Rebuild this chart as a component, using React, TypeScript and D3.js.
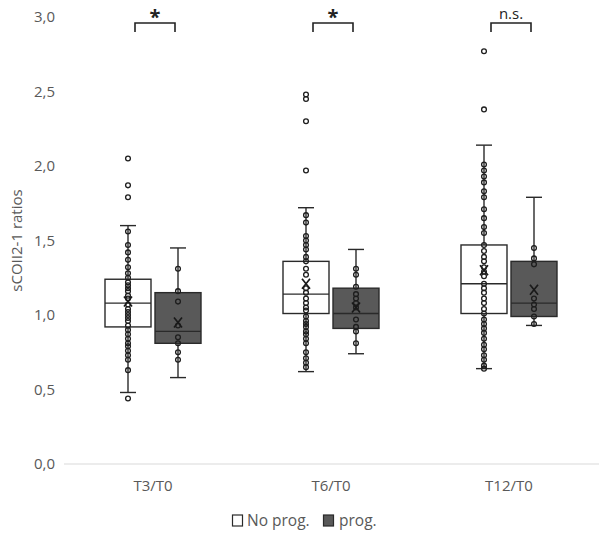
import React from "react";
import * as d3 from "d3";

const categories = ["T3/T0", "T6/T0", "T12/T0"];
const series = ["No prog.", "prog."];
const yTicks = [0, 0.5, 1.0, 1.5, 2.0, 2.5, 3.0];

// box statistics per category, per series: [No prog., prog.]
const q1 = [[0.92, 0.81], [1.01, 0.91], [1.01, 0.99]];
const median = [[1.08, 0.89], [1.14, 1.01], [1.21, 1.08]];
const q3 = [[1.24, 1.15], [1.36, 1.18], [1.47, 1.36]];
const whiskerLow = [[0.48, 0.58], [0.62, 0.74], [0.64, 0.93]];
const whiskerHigh = [[1.60, 1.45], [1.72, 1.44], [2.14, 1.79]];
const means = [[1.09, 0.95], [1.21, 1.05], [1.30, 1.17]];

const pointsT3NoProg = [2.05, 1.87, 1.79, 1.56, 1.47, 1.42, 1.37, 1.32, 1.28, 1.25, 1.22, 1.20, 1.18, 1.16, 1.13, 1.11, 1.07, 1.04, 1.02, 1.00, 0.98, 0.96, 0.93, 0.90, 0.87, 0.84, 0.81, 0.79, 0.76, 0.73, 0.70, 0.63, 0.44];
const pointsT3Prog = [1.31, 1.16, 1.09, 0.93, 0.85, 0.81, 0.75, 0.70];
const pointsT6NoProg = [2.48, 2.45, 2.30, 1.97, 1.67, 1.62, 1.53, 1.50, 1.47, 1.44, 1.39, 1.36, 1.31, 1.27, 1.18, 1.15, 1.11, 1.08, 1.05, 1.03, 0.99, 0.96, 0.94, 0.92, 0.89, 0.87, 0.84, 0.81, 0.75, 0.71, 0.68, 0.65];
const pointsT6Prog = [1.31, 1.27, 1.19, 1.14, 1.11, 1.08, 1.05, 0.97, 0.92, 0.89, 0.81];
const pointsT12NoProg = [2.77, 2.38, 2.01, 1.97, 1.93, 1.89, 1.83, 1.79, 1.71, 1.65, 1.59, 1.55, 1.47, 1.43, 1.39, 1.36, 1.32, 1.29, 1.26, 1.21, 1.18, 1.15, 1.11, 1.08, 1.04, 1.01, 0.97, 0.94, 0.91, 0.88, 0.84, 0.80, 0.77, 0.73, 0.70, 0.66, 0.64];
const pointsT12Prog = [1.45, 1.38, 1.34, 1.11, 1.07, 1.04, 0.99, 0.94];

const points = [
  [pointsT3NoProg, pointsT3Prog],
  [pointsT6NoProg, pointsT6Prog],
  [pointsT12NoProg, pointsT12Prog],
];
const significance = ["*", "*", "n.s."];

const W = 604;
const H = 534;
const FONT = "'Open Sans', sans-serif";
const TEXT = "#595959";
const STROKE = "#2a2a2a";
const fills = ["#ffffff", "#595959"];
const FS = 15;

export default function App() {
  const x = d3.scaleBand<string>().domain(categories).range([64, 598]);
  const sub = d3.scaleBand<string>().domain(series).range([-48, 48]).paddingInner(0.08);
  const y = d3.scaleLinear().domain([0, 3]).range([464, 17]);
  const bw = sub.bandwidth();

  return (
    <svg width={W} height={H} style={{ position: "absolute", left: 0, top: 0, background: "#fff" }}>
      {/* y tick labels */}
      {yTicks.map((t) => (
        <text key={t} x={55} y={y(t)} dy="0.35em" textAnchor="end" fontFamily={FONT} fontSize={FS} fill={TEXT}>
          {d3.format(".1f")(t).replace(".", ",")}
        </text>
      ))}
      {/* baseline */}
      <line x1={64} x2={599} y1={y(0)} y2={y(0)} stroke="#d9d9d9" strokeWidth={1.2} />
      {/* y title */}
      <text transform={`translate(17,${(y(0) + y(3)) / 2}) rotate(-90)`} textAnchor="middle" dy="0.35em" fontFamily={FONT} fontSize={FS} fill={TEXT}>
        sCOII2-1 ratios
      </text>
      {/* category labels */}
      {categories.map((c) => (
        <text key={c} x={x(c)! + x.bandwidth() / 2} y={486} dy="0.35em" textAnchor="middle" fontFamily={FONT} fontSize={FS} fill={TEXT}>
          {c}
        </text>
      ))}
      {/* boxes */}
      {categories.map((c, ci) => {
        const cx0 = x(c)! + x.bandwidth() / 2;
        return (
          <g key={c}>
            {series.map((s, si) => {
              const left = cx0 + sub(s)!;
              const cx = left + bw / 2;
              const cap = 8;
              const m = means[ci][si];
              const ms = 4;
              return (
                <g key={s}>
                  <line x1={cx} x2={cx} y1={y(q3[ci][si])} y2={y(whiskerHigh[ci][si])} stroke={STROKE} strokeWidth={1.4} />
                  <line x1={cx} x2={cx} y1={y(q1[ci][si])} y2={y(whiskerLow[ci][si])} stroke={STROKE} strokeWidth={1.4} />
                  <line x1={cx - cap} x2={cx + cap} y1={y(whiskerHigh[ci][si])} y2={y(whiskerHigh[ci][si])} stroke={STROKE} strokeWidth={1.4} />
                  <line x1={cx - cap} x2={cx + cap} y1={y(whiskerLow[ci][si])} y2={y(whiskerLow[ci][si])} stroke={STROKE} strokeWidth={1.4} />
                  <rect x={left} y={y(q3[ci][si])} width={bw} height={y(q1[ci][si]) - y(q3[ci][si])} fill={fills[si]} stroke={STROKE} strokeWidth={1.4} />
                  <line x1={left} x2={left + bw} y1={y(median[ci][si])} y2={y(median[ci][si])} stroke={STROKE} strokeWidth={1.4} />
                  {points[ci][si].map((p, pi) => (
                    <circle key={pi} cx={cx} cy={y(p)} r={2.4} fill="none" stroke="#1e1e1e" strokeWidth={1.3} />
                  ))}
                  <path d={`M${cx - ms},${y(m) - ms - 1}L${cx + ms},${y(m) + ms + 1}M${cx + ms},${y(m) - ms - 1}L${cx - ms},${y(m) + ms + 1}`} stroke="#1a1a1a" strokeWidth={1.7} fill="none" />
                </g>
              );
            })}
            {/* significance bracket */}
            <path d={`M${cx0 - 18},32V23H${cx0 + 22}V32`} fill="none" stroke="#222" strokeWidth={1.6} />
            <text x={cx0 + 2} y={significance[ci] === "*" ? 17 : 14} dy="0.35em" textAnchor="middle" fontFamily={FONT} fontSize={significance[ci] === "*" ? 20 : 15} fontWeight={significance[ci] === "*" ? 700 : 400} fill="#222">
              {significance[ci]}
            </text>
          </g>
        );
      })}
      {/* legend */}
      <g>
        <rect x={232.5} y={515} width={10} height={11} fill="#fff" stroke={STROKE} strokeWidth={1.2} />
        <text x={247} y={521} dy="0.35em" fontFamily={FONT} fontSize={FS + 0.5} fill={TEXT}>No prog.</text>
        <rect x={323.5} y={515} width={10} height={11} fill={fills[1]} stroke={STROKE} strokeWidth={1.2} />
        <text x={339} y={521} dy="0.35em" fontFamily={FONT} fontSize={FS + 0.5} fill={TEXT}>prog.</text>
      </g>
    </svg>
  );
}
